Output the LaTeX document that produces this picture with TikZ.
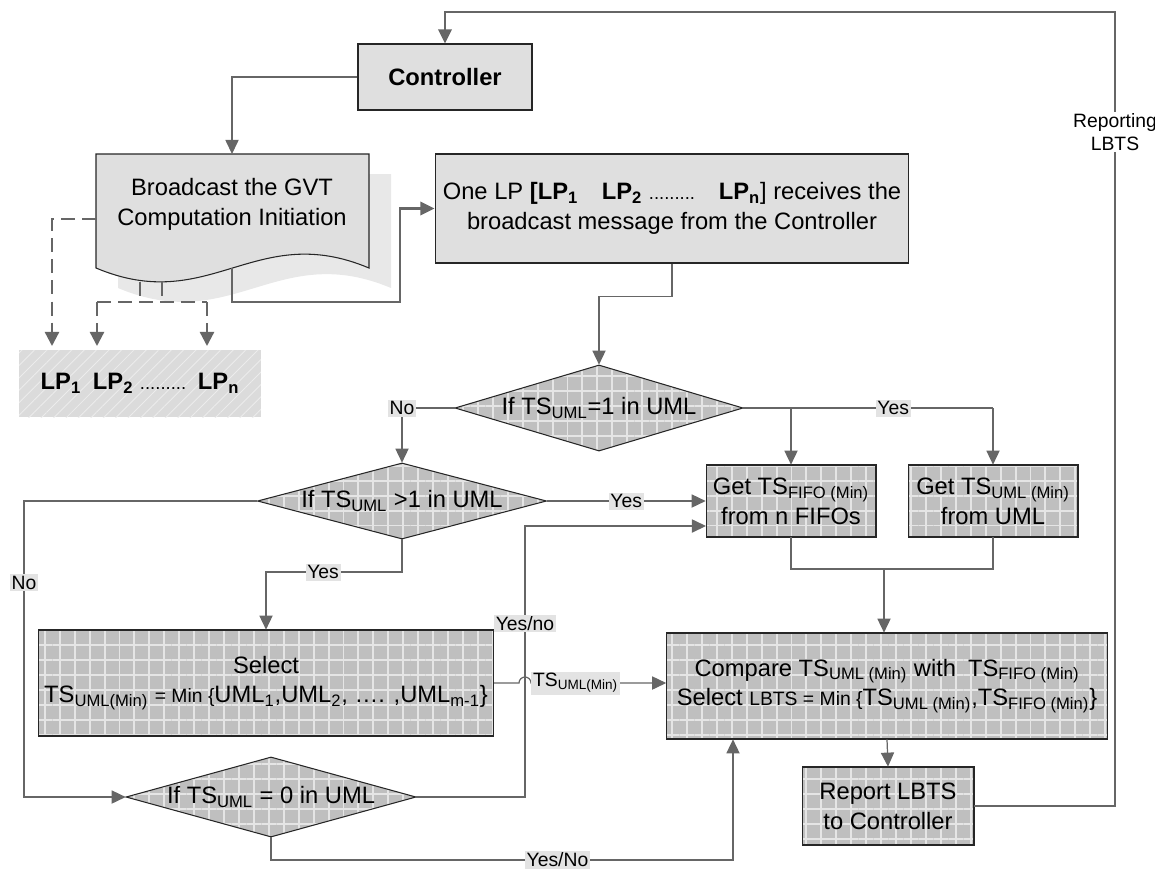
\documentclass[tikz,border=0pt]{standalone}
\usepackage{fontspec}
\setmainfont{Liberation Sans}
\usetikzlibrary{shapes.geometric,arrows.meta,patterns.meta}

\tikzstyle{txt} = [font=\fontsize{13.5}{17}\selectfont,align=center]
\tikzstyle{plainbox} = [txt,draw=black!85,fill=gray!25,line width=0.6pt]
\tikzstyle{gridfill} = [fill=gray!50,postaction={pattern={Hatch[angle=0,distance=8.5pt,line width=1.1pt]},pattern color=gray!20},postaction={draw=black!85,line width=0.6pt}]
\tikzstyle{gridbox} = [txt,gridfill]
\tikzstyle{decision} = [txt,diamond,gridfill,inner sep=0pt]
\tikzstyle{lpbox} = [txt,fill=gray!28,postaction={pattern={Lines[angle=45,distance=5pt,line width=0.5pt]},pattern color=white!85!gray}]
\tikzstyle{tag} = [fill=gray!22,inner sep=1pt,font=\fontsize{11}{13}\selectfont]
\tikzstyle{flow} = [draw=black!60,line width=0.7pt]
\tikzstyle{arrowdecorate} = [flow,-{Triangle[width=7.5pt,length=8pt]}]
\tikzstyle{heavy} = [line width=1.6pt]
\tikzstyle{dashline} = [flow,line width=1.3pt,dash pattern=on 8pt off 4pt]
\tikzstyle{dasharrow} = [dashline,-{Triangle[width=8pt,length=8pt]}]

\newcommand{\dotrow}{{\fontsize{10.5}{12}\selectfont .........}}

\begin{document}
\begin{tikzpicture}[x=0.02cm,y=-0.02cm]
  \useasboundingbox (0,0) rectangle (1155,869);

  %% broadcast sheet with its shadow
  \fill[gray!18] (118,174) -- (391,174) -- (391,288) .. controls (277,240) and (232,336) .. (118,288) -- cycle;
  \draw[fill=gray!25,draw=black!85,line width=0.6pt] (96,154) -- (369,154) -- (369,268) .. controls (255,220) and (210,316) .. (96,268) -- cycle;
  \node[txt] (doc) at (232,204) {Broadcast the GVT\\Computation Initiation};
  \coordinate (doctop) at (232,154);
  \coordinate (docbot) at (232,268);
  \coordinate (docleft) at (96,219);

  %% nodes
  \node[plainbox,font=\bfseries\fontsize{13.5}{17}\selectfont,minimum width=3.48cm,minimum height=1.32cm] (ctrl) at (445,77) {Controller};
  \node[plainbox,minimum width=9.48cm,minimum height=2.18cm] (recv) at (672,208.5)
    {One LP \textbf{[LP\textsubscript{1}\quad LP\textsubscript{2}} \dotrow\quad \textbf{LP\textsubscript{n}}] receives the\\broadcast message from the Controller};
  \node[lpbox,minimum width=4.84cm,minimum height=1.34cm] (lps) at (140,383.5)
    {\textbf{LP\textsubscript{1}\enspace LP\textsubscript{2}} \dotrow\enspace\textbf{LP\textsubscript{n}}};
  \node[decision,aspect=3.3,minimum width=5.76cm,minimum height=1.72cm] (dec1) at (599,408) {If TS\textsubscript{UML}=1 in UML};
  \node[decision,aspect=3.8,minimum width=5.78cm,minimum height=1.52cm] (dec2) at (402,501) {If TS\textsubscript{UML} >1 in UML};
  \node[decision,aspect=3.6,minimum width=5.8cm,minimum height=1.6cm] (dec3) at (271,797) {If TS\textsubscript{UML} = 0 in UML};
  \node[gridbox,minimum width=3.4cm,minimum height=1.44cm] (fifo) at (791,501) {Get TS\textsubscript{FIFO (Min)}\\from n FIFOs};
  \node[gridbox,minimum width=3.4cm,minimum height=1.44cm] (umlget) at (993,501) {Get TS\textsubscript{UML (Min)}\\from UML};
  \node[gridbox,minimum width=8.76cm,minimum height=2.12cm] (select) at (266,683)
    {Select\\TS\textsubscript{UML(Min)} {\fontsize{11}{13}\selectfont = Min \{}UML\textsubscript{1},UML\textsubscript{2}, \dots. ,UML\textsubscript{m-1}\}};
  \node[gridbox,minimum width=8.82cm,minimum height=2.12cm] (cmp) at (887,686)
    {Compare TS\textsubscript{UML (Min)} with\enspace TS\textsubscript{FIFO (Min)}\\Select {\fontsize{11}{13}\selectfont LBTS = Min \{}TS\textsubscript{UML (Min)},TS\textsubscript{FIFO (Min)}\}};
  \node[gridbox,minimum width=3.44cm,minimum height=1.56cm] (report) at (888,806) {Report LBTS\\to Controller};

  %% bends and free ends
  \coordinate (rloop) at (1115,12);
  \coordinate (bend1) at (400,302);
  \coordinate (lpa) at (52,346);
  \coordinate (lpb) at (97,346);
  \coordinate (lpc) at (207,346);
  \coordinate (dsa) at (140,282);
  \coordinate (dsb) at (162,282);
  \coordinate (dhl) at (97,302);
  \coordinate (dhr) at (207,302);
  \coordinate (yesl) at (791,408);
  \coordinate (yesr) at (993,408);
  \coordinate (merge) at (884,569);
  \coordinate (noleft) at (24,650);
  \coordinate (selbend) at (266,572);
  \coordinate (hopin) at (519,683);
  \coordinate (ynbend) at (525,526);
  \coordinate (fifoin) at (706,526);
  \coordinate (ynlow) at (733,860);

  %edges or lines
  \draw[arrowdecorate,heavy] (report.east) -| (rloop) -| (ctrl.north);
  \node[fill=white,inner sep=1pt,font=\fontsize{11}{13}\selectfont,align=center] (reptxt) at (1115,132) {Reporting\\LBTS};
  \draw[arrowdecorate] (ctrl.west) -| (doctop);
  \draw[arrowdecorate,heavy] (docbot) |- (bend1) |- (recv.west);
  \draw[dasharrow] (docleft) -| (lpa);
  \draw[dashline] (dsa) -- (dsa |- dhl);
  \draw[dashline] (dsb) -- (dsb |- dhl);
  \draw[dashline] (dhl) -- (dhr);
  \foreach \startnode/\endnode in {dhl/lpb, dhr/lpc}
    \draw[dasharrow] (\startnode) -- (\endnode);

  \draw[arrowdecorate] (recv.south) -- ++(0,33) -| (dec1.north);
  \draw[arrowdecorate] (dec1.west) -| node[tag,pos=0.5] {No} (dec2.north);
  \draw[flow] (dec1.east) -- node[tag,pos=0.6] {Yes} (yesr);
  \foreach \startnode/\endnode in {yesl/fifo, yesr/umlget}
    \draw[arrowdecorate] (\startnode) -- (\endnode.north);
  \draw[arrowdecorate] (dec2.east) -- node[tag] {Yes} (fifo.west);
  \draw[arrowdecorate] (dec2.west) -| node[tag,pos=0.775] {No} (noleft) |- (dec3.west);
  \draw[arrowdecorate] (dec2.south) |- node[tag,pos=0.79] {Yes} (selbend) -- (select.north);
  \draw[arrowdecorate] (select.east) -- (hopin) arc[start angle=180,end angle=360,radius=6]
    -- node[tag,pos=0.33] {TS\textsubscript{UML(Min)}} (cmp.west |- select.east);
  \draw[arrowdecorate] (dec3.east) -| node[tag,pos=0.82] {Yes/no} (ynbend) -- (fifoin);
  \draw[arrowdecorate] (dec3.south) |- node[tag,pos=0.81] {Yes/No} (ynlow) -- (cmp.south -| ynlow);
  \draw[flow] (fifo.south) |- (merge) -| (umlget.south);
  \draw[arrowdecorate] (merge) -- (cmp.north -| merge);
  \draw[arrowdecorate] (cmp.south) -- (report.north);
\end{tikzpicture}
\end{document}
